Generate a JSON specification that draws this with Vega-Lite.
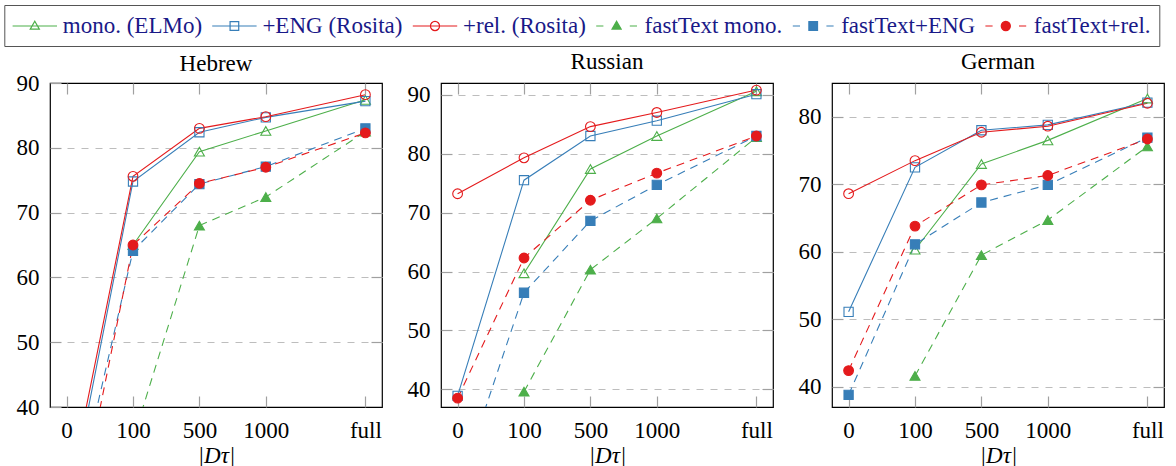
{
  "$schema": "https://vega.github.io/schema/vega-lite/v6.json",
  "padding": {"left": 3, "top": 4, "right": 3, "bottom": 3},
  "spacing": 22,
  "background": "white",
  "datasets": {
    "d": [
      {"lang": "Hebrew", "s": "mono. (ELMo)", "x": 1, "v": 65.0},
      {"lang": "Hebrew", "s": "mono. (ELMo)", "x": 2, "v": 79.4},
      {"lang": "Hebrew", "s": "mono. (ELMo)", "x": 3, "v": 82.6},
      {"lang": "Hebrew", "s": "mono. (ELMo)", "x": 4.5, "v": 87.4},
      {"lang": "Hebrew", "s": "+ENG (Rosita)", "x": 0, "v": 22.8},
      {"lang": "Hebrew", "s": "+ENG (Rosita)", "x": 1, "v": 74.8},
      {"lang": "Hebrew", "s": "+ENG (Rosita)", "x": 2, "v": 82.4},
      {"lang": "Hebrew", "s": "+ENG (Rosita)", "x": 3, "v": 84.7},
      {"lang": "Hebrew", "s": "+ENG (Rosita)", "x": 4.5, "v": 87.2},
      {"lang": "Hebrew", "s": "+rel. (Rosita)", "x": 0, "v": 25.0},
      {"lang": "Hebrew", "s": "+rel. (Rosita)", "x": 1, "v": 75.6},
      {"lang": "Hebrew", "s": "+rel. (Rosita)", "x": 2, "v": 83.0},
      {"lang": "Hebrew", "s": "+rel. (Rosita)", "x": 3, "v": 84.8},
      {"lang": "Hebrew", "s": "+rel. (Rosita)", "x": 4.5, "v": 88.2},
      {"lang": "Hebrew", "s": "fastText mono.", "x": 1, "v": 35.0},
      {"lang": "Hebrew", "s": "fastText mono.", "x": 2, "v": 68.0},
      {"lang": "Hebrew", "s": "fastText mono.", "x": 3, "v": 72.4},
      {"lang": "Hebrew", "s": "fastText mono.", "x": 4.5, "v": 82.5},
      {"lang": "Hebrew", "s": "fastText+ENG", "x": 0, "v": 19.6},
      {"lang": "Hebrew", "s": "fastText+ENG", "x": 1, "v": 64.1},
      {"lang": "Hebrew", "s": "fastText+ENG", "x": 2, "v": 74.4},
      {"lang": "Hebrew", "s": "fastText+ENG", "x": 3, "v": 77.1},
      {"lang": "Hebrew", "s": "fastText+ENG", "x": 4.5, "v": 83.0},
      {"lang": "Hebrew", "s": "fastText+rel.", "x": 0, "v": 14.3},
      {"lang": "Hebrew", "s": "fastText+rel.", "x": 1, "v": 65.0},
      {"lang": "Hebrew", "s": "fastText+rel.", "x": 2, "v": 74.5},
      {"lang": "Hebrew", "s": "fastText+rel.", "x": 3, "v": 77.0},
      {"lang": "Hebrew", "s": "fastText+rel.", "x": 4.5, "v": 82.3},
      {"lang": "Russian", "s": "mono. (ELMo)", "x": 1, "v": 59.7},
      {"lang": "Russian", "s": "mono. (ELMo)", "x": 2, "v": 77.4},
      {"lang": "Russian", "s": "mono. (ELMo)", "x": 3, "v": 83.0},
      {"lang": "Russian", "s": "mono. (ELMo)", "x": 4.5, "v": 90.6},
      {"lang": "Russian", "s": "+ENG (Rosita)", "x": 0, "v": 38.9},
      {"lang": "Russian", "s": "+ENG (Rosita)", "x": 1, "v": 75.5},
      {"lang": "Russian", "s": "+ENG (Rosita)", "x": 2, "v": 83.0},
      {"lang": "Russian", "s": "+ENG (Rosita)", "x": 3, "v": 85.6},
      {"lang": "Russian", "s": "+ENG (Rosita)", "x": 4.5, "v": 90.1},
      {"lang": "Russian", "s": "+rel. (Rosita)", "x": 0, "v": 73.2},
      {"lang": "Russian", "s": "+rel. (Rosita)", "x": 1, "v": 79.3},
      {"lang": "Russian", "s": "+rel. (Rosita)", "x": 2, "v": 84.6},
      {"lang": "Russian", "s": "+rel. (Rosita)", "x": 3, "v": 87.0},
      {"lang": "Russian", "s": "+rel. (Rosita)", "x": 4.5, "v": 90.8},
      {"lang": "Russian", "s": "fastText mono.", "x": 1, "v": 39.6},
      {"lang": "Russian", "s": "fastText mono.", "x": 2, "v": 60.3},
      {"lang": "Russian", "s": "fastText mono.", "x": 3, "v": 69.0},
      {"lang": "Russian", "s": "fastText mono.", "x": 4.5, "v": 82.8},
      {"lang": "Russian", "s": "fastText+ENG", "x": 0, "v": 22.7},
      {"lang": "Russian", "s": "fastText+ENG", "x": 1, "v": 56.4},
      {"lang": "Russian", "s": "fastText+ENG", "x": 2, "v": 68.6},
      {"lang": "Russian", "s": "fastText+ENG", "x": 3, "v": 74.7},
      {"lang": "Russian", "s": "fastText+ENG", "x": 4.5, "v": 83.0},
      {"lang": "Russian", "s": "fastText+rel.", "x": 0, "v": 38.5},
      {"lang": "Russian", "s": "fastText+rel.", "x": 1, "v": 62.3},
      {"lang": "Russian", "s": "fastText+rel.", "x": 2, "v": 72.1},
      {"lang": "Russian", "s": "fastText+rel.", "x": 3, "v": 76.7},
      {"lang": "Russian", "s": "fastText+rel.", "x": 4.5, "v": 83.0},
      {"lang": "German", "s": "mono. (ELMo)", "x": 1, "v": 60.3},
      {"lang": "German", "s": "mono. (ELMo)", "x": 2, "v": 73.0},
      {"lang": "German", "s": "mono. (ELMo)", "x": 3, "v": 76.5},
      {"lang": "German", "s": "mono. (ELMo)", "x": 4.5, "v": 82.7},
      {"lang": "German", "s": "+ENG (Rosita)", "x": 0, "v": 51.1},
      {"lang": "German", "s": "+ENG (Rosita)", "x": 1, "v": 72.5},
      {"lang": "German", "s": "+ENG (Rosita)", "x": 2, "v": 78.0},
      {"lang": "German", "s": "+ENG (Rosita)", "x": 3, "v": 78.8},
      {"lang": "German", "s": "+ENG (Rosita)", "x": 4.5, "v": 82.1},
      {"lang": "German", "s": "+rel. (Rosita)", "x": 0, "v": 68.6},
      {"lang": "German", "s": "+rel. (Rosita)", "x": 1, "v": 73.5},
      {"lang": "German", "s": "+rel. (Rosita)", "x": 2, "v": 77.7},
      {"lang": "German", "s": "+rel. (Rosita)", "x": 3, "v": 78.6},
      {"lang": "German", "s": "+rel. (Rosita)", "x": 4.5, "v": 82.0},
      {"lang": "German", "s": "fastText mono.", "x": 1, "v": 41.6},
      {"lang": "German", "s": "fastText mono.", "x": 2, "v": 59.5},
      {"lang": "German", "s": "fastText mono.", "x": 3, "v": 64.7},
      {"lang": "German", "s": "fastText mono.", "x": 4.5, "v": 75.6},
      {"lang": "German", "s": "fastText+ENG", "x": 0, "v": 38.8},
      {"lang": "German", "s": "fastText+ENG", "x": 1, "v": 61.1},
      {"lang": "German", "s": "fastText+ENG", "x": 2, "v": 67.3},
      {"lang": "German", "s": "fastText+ENG", "x": 3, "v": 69.9},
      {"lang": "German", "s": "fastText+ENG", "x": 4.5, "v": 76.9},
      {"lang": "German", "s": "fastText+rel.", "x": 0, "v": 42.4},
      {"lang": "German", "s": "fastText+rel.", "x": 1, "v": 63.8},
      {"lang": "German", "s": "fastText+rel.", "x": 2, "v": 69.9},
      {"lang": "German", "s": "fastText+rel.", "x": 3, "v": 71.3},
      {"lang": "German", "s": "fastText+rel.", "x": 4.5, "v": 76.7}
    ]
  },
  "hconcat": [
    {
      "title": {"text": "Hebrew", "offset": -4},
      "width": 332, "height": 324,
      "data": {"name": "d"},
      "transform": [{"filter": "datum.lang === 'Hebrew'"}],
      "resolve": {"axis": {"x": "independent", "y": "independent"}},
      "layer": [
        {
          "transform": [{"filter": "indexof(['mono. (ELMo)', '+ENG (Rosita)', '+rel. (Rosita)'], datum.s) >= 0"}],
          "mark": {"type": "line", "clip": true, "strokeWidth": 1.1},
          "encoding": {
            "x": {"field": "x", "type": "quantitative", "scale": {"domain": [-0.25, 4.75], "nice": false, "zero": false},
              "axis": {"values": [0, 1, 2, 3, 4.5], "labelExpr": "datum.value == 0 ? '0' : datum.value == 1 ? '100' : datum.value == 2 ? '500' : datum.value == 3 ? '1000' : 'full'", "title": "|Dτ|", "grid": false, "domain": false, "tickSize": -11, "labelPadding": 23}},
            "y": {"field": "v", "type": "quantitative", "scale": {"domain": [40, 90], "nice": false, "zero": false},
              "axis": {"values": [40, 50, 60, 70, 80, 90], "title": null, "grid": false, "domain": false, "tickSize": -11, "labelPadding": 22}},
            "stroke": {"field": "s", "type": "nominal", "title": null,
              "scale": {"domain": ["mono. (ELMo)", "+ENG (Rosita)", "+rel. (Rosita)", "fastText mono.", "fastText+ENG", "fastText+rel."], "range": ["#4daf4a", "#377eb8", "#e41a1c", "#4daf4a", "#377eb8", "#e41a1c"]}}
          }
        },
        {
          "transform": [{"filter": "indexof(['fastText mono.', 'fastText+ENG', 'fastText+rel.'], datum.s) >= 0"}],
          "mark": {"type": "line", "clip": true, "strokeWidth": 1.1, "strokeDash": [8, 6]},
          "encoding": {
            "x": {"field": "x", "type": "quantitative", "axis": null},
            "y": {"field": "v", "type": "quantitative", "axis": null},
            "stroke": {"field": "s", "type": "nominal", "title": null}
          }
        },
        {
          "transform": [{"filter": "indexof(['mono. (ELMo)', 'fastText mono.'], datum.s) >= 0"}],
          "mark": {"type": "point", "clip": true, "filled": true, "opacity": 1, "size": 100, "strokeWidth": 1.1, "shape": "triangle-up"},
          "encoding": {
            "x": {"field": "x", "type": "quantitative", "axis": {"orient": "top", "values": [0, 1, 2, 3, 4.5], "labels": false, "title": null, "grid": false, "domain": false, "tickSize": -11}},
            "y": {"field": "v", "type": "quantitative", "axis": {"orient": "right", "values": [50, 60, 70, 80], "labels": false, "title": null, "grid": true, "domain": false, "tickSize": -11}},
            "stroke": {"field": "s", "type": "nominal", "title": null},
            "fill": {"field": "s", "type": "nominal", "title": null, "scale": {"domain": ["mono. (ELMo)", "+ENG (Rosita)", "+rel. (Rosita)", "fastText mono.", "fastText+ENG", "fastText+rel."], "range": ["transparent", "transparent", "transparent", "#4daf4a", "#377eb8", "#e41a1c"]}}
          }
        },
        {
          "transform": [{"filter": "indexof(['+ENG (Rosita)', 'fastText+ENG'], datum.s) >= 0"}],
          "mark": {"type": "point", "clip": true, "filled": true, "opacity": 1, "size": 85, "strokeWidth": 1.1, "shape": "square"},
          "encoding": {
            "x": {"field": "x", "type": "quantitative", "axis": null},
            "y": {"field": "v", "type": "quantitative", "axis": null},
            "stroke": {"field": "s", "type": "nominal", "title": null},
            "fill": {"field": "s", "type": "nominal", "title": null}
          }
        },
        {
          "transform": [{"filter": "indexof(['+rel. (Rosita)', 'fastText+rel.'], datum.s) >= 0"}],
          "mark": {"type": "point", "clip": true, "filled": true, "opacity": 1, "size": 95, "strokeWidth": 1.1, "shape": "circle"},
          "encoding": {
            "x": {"field": "x", "type": "quantitative", "axis": null},
            "y": {"field": "v", "type": "quantitative", "axis": null},
            "stroke": {"field": "s", "type": "nominal", "title": null},
            "fill": {"field": "s", "type": "nominal", "title": null}
          }
        },
        {
          "transform": [{"filter": "datum.lang === 'none'"}],
          "mark": {"type": "point", "filled": true, "opacity": 1},
          "encoding": {
            "shape": {"field": "s", "type": "nominal", "title": null,
              "scale": {"domain": ["mono. (ELMo)", "+ENG (Rosita)", "+rel. (Rosita)", "fastText mono.", "fastText+ENG", "fastText+rel."],
                "range": [
                  "M-1.85,0H1.85M0,-0.4L0.38,0.26H-0.38Z",
                  "M-1.85,0H1.85M-0.36,-0.36H0.36V0.36H-0.36Z",
                  "M-1.85,0H1.85M0.38,0A0.38,0.38,0,1,1,-0.38,0A0.38,0.38,0,1,1,0.38,0Z",
                  "M-1.7,0H-1.1M1.1,0H1.7M0,-0.4L0.38,0.26H-0.38Z",
                  "M-1.7,0H-1.1M1.1,0H1.7M-0.36,-0.36H0.36V0.36H-0.36Z",
                  "M-1.7,0H-1.1M1.1,0H1.7M0.38,0A0.38,0.38,0,1,1,-0.38,0A0.38,0.38,0,1,1,0.38,0Z"
                ]},
              "legend": {"title": null, "orient": "none", "direction": "horizontal", "columns": 6, "legendX": -45.7, "legendY": -78, "labelFont": "Liberation Serif", "labelFontSize": 23}}
          }
        }
      ]
    },
    {
      "title": "Russian",
      "width": 332, "height": 324,
      "data": {"name": "d"},
      "transform": [{"filter": "datum.lang === 'Russian'"}],
      "resolve": {"axis": {"x": "independent", "y": "independent"}},
      "layer": [
        {
          "transform": [{"filter": "indexof(['mono. (ELMo)', '+ENG (Rosita)', '+rel. (Rosita)'], datum.s) >= 0"}],
          "mark": {"type": "line", "clip": true, "strokeWidth": 1.1},
          "encoding": {
            "x": {"field": "x", "type": "quantitative", "scale": {"domain": [-0.25, 4.75], "nice": false, "zero": false},
              "axis": {"values": [0, 1, 2, 3, 4.5], "labelExpr": "datum.value == 0 ? '0' : datum.value == 1 ? '100' : datum.value == 2 ? '500' : datum.value == 3 ? '1000' : 'full'", "title": "|Dτ|", "grid": false, "domain": false, "tickSize": -11, "labelPadding": 23}},
            "y": {"field": "v", "type": "quantitative", "scale": {"domain": [37, 92], "nice": false, "zero": false},
              "axis": {"values": [40, 50, 60, 70, 80, 90], "title": null, "grid": false, "domain": false, "tickSize": -11, "labelPadding": 22}},
            "stroke": {"field": "s", "type": "nominal", "title": null}
          }
        },
        {
          "transform": [{"filter": "indexof(['fastText mono.', 'fastText+ENG', 'fastText+rel.'], datum.s) >= 0"}],
          "mark": {"type": "line", "clip": true, "strokeWidth": 1.1, "strokeDash": [8, 6]},
          "encoding": {
            "x": {"field": "x", "type": "quantitative", "axis": null},
            "y": {"field": "v", "type": "quantitative", "axis": null},
            "stroke": {"field": "s", "type": "nominal", "title": null}
          }
        },
        {
          "transform": [{"filter": "indexof(['mono. (ELMo)', 'fastText mono.'], datum.s) >= 0"}],
          "mark": {"type": "point", "clip": true, "filled": true, "opacity": 1, "size": 100, "strokeWidth": 1.1, "shape": "triangle-up"},
          "encoding": {
            "x": {"field": "x", "type": "quantitative", "axis": {"orient": "top", "values": [0, 1, 2, 3, 4.5], "labels": false, "title": null, "grid": false, "domain": false, "tickSize": -11}},
            "y": {"field": "v", "type": "quantitative", "axis": {"orient": "right", "values": [40, 50, 60, 70, 80, 90], "labels": false, "title": null, "grid": true, "domain": false, "tickSize": -11}},
            "stroke": {"field": "s", "type": "nominal", "title": null},
            "fill": {"field": "s", "type": "nominal", "title": null}
          }
        },
        {
          "transform": [{"filter": "indexof(['+ENG (Rosita)', 'fastText+ENG'], datum.s) >= 0"}],
          "mark": {"type": "point", "clip": true, "filled": true, "opacity": 1, "size": 85, "strokeWidth": 1.1, "shape": "square"},
          "encoding": {
            "x": {"field": "x", "type": "quantitative", "axis": null},
            "y": {"field": "v", "type": "quantitative", "axis": null},
            "stroke": {"field": "s", "type": "nominal", "title": null},
            "fill": {"field": "s", "type": "nominal", "title": null}
          }
        },
        {
          "transform": [{"filter": "indexof(['+rel. (Rosita)', 'fastText+rel.'], datum.s) >= 0"}],
          "mark": {"type": "point", "clip": true, "filled": true, "opacity": 1, "size": 95, "strokeWidth": 1.1, "shape": "circle"},
          "encoding": {
            "x": {"field": "x", "type": "quantitative", "axis": null},
            "y": {"field": "v", "type": "quantitative", "axis": null},
            "stroke": {"field": "s", "type": "nominal", "title": null},
            "fill": {"field": "s", "type": "nominal", "title": null}
          }
        }
      ]
    },
    {
      "title": "German",
      "width": 332, "height": 324,
      "data": {"name": "d"},
      "transform": [{"filter": "datum.lang === 'German'"}],
      "resolve": {"axis": {"x": "independent", "y": "independent"}},
      "layer": [
        {
          "transform": [{"filter": "indexof(['mono. (ELMo)', '+ENG (Rosita)', '+rel. (Rosita)'], datum.s) >= 0"}],
          "mark": {"type": "line", "clip": true, "strokeWidth": 1.1},
          "encoding": {
            "x": {"field": "x", "type": "quantitative", "scale": {"domain": [-0.25, 4.75], "nice": false, "zero": false},
              "axis": {"values": [0, 1, 2, 3, 4.5], "labelExpr": "datum.value == 0 ? '0' : datum.value == 1 ? '100' : datum.value == 2 ? '500' : datum.value == 3 ? '1000' : 'full'", "title": "|Dτ|", "grid": false, "domain": false, "tickSize": -11, "labelPadding": 23}},
            "y": {"field": "v", "type": "quantitative", "scale": {"domain": [37, 85], "nice": false, "zero": false},
              "axis": {"values": [40, 50, 60, 70, 80], "title": null, "grid": false, "domain": false, "tickSize": -11, "labelPadding": 22}},
            "stroke": {"field": "s", "type": "nominal", "title": null}
          }
        },
        {
          "transform": [{"filter": "indexof(['fastText mono.', 'fastText+ENG', 'fastText+rel.'], datum.s) >= 0"}],
          "mark": {"type": "line", "clip": true, "strokeWidth": 1.1, "strokeDash": [8, 6]},
          "encoding": {
            "x": {"field": "x", "type": "quantitative", "axis": null},
            "y": {"field": "v", "type": "quantitative", "axis": null},
            "stroke": {"field": "s", "type": "nominal", "title": null}
          }
        },
        {
          "transform": [{"filter": "indexof(['mono. (ELMo)', 'fastText mono.'], datum.s) >= 0"}],
          "mark": {"type": "point", "clip": true, "filled": true, "opacity": 1, "size": 100, "strokeWidth": 1.1, "shape": "triangle-up"},
          "encoding": {
            "x": {"field": "x", "type": "quantitative", "axis": {"orient": "top", "values": [0, 1, 2, 3, 4.5], "labels": false, "title": null, "grid": false, "domain": false, "tickSize": -11}},
            "y": {"field": "v", "type": "quantitative", "axis": {"orient": "right", "values": [40, 50, 60, 70, 80], "labels": false, "title": null, "grid": true, "domain": false, "tickSize": -11}},
            "stroke": {"field": "s", "type": "nominal", "title": null},
            "fill": {"field": "s", "type": "nominal", "title": null}
          }
        },
        {
          "transform": [{"filter": "indexof(['+ENG (Rosita)', 'fastText+ENG'], datum.s) >= 0"}],
          "mark": {"type": "point", "clip": true, "filled": true, "opacity": 1, "size": 85, "strokeWidth": 1.1, "shape": "square"},
          "encoding": {
            "x": {"field": "x", "type": "quantitative", "axis": null},
            "y": {"field": "v", "type": "quantitative", "axis": null},
            "stroke": {"field": "s", "type": "nominal", "title": null},
            "fill": {"field": "s", "type": "nominal", "title": null}
          }
        },
        {
          "transform": [{"filter": "indexof(['+rel. (Rosita)', 'fastText+rel.'], datum.s) >= 0"}],
          "mark": {"type": "point", "clip": true, "filled": true, "opacity": 1, "size": 95, "strokeWidth": 1.1, "shape": "circle"},
          "encoding": {
            "x": {"field": "x", "type": "quantitative", "axis": null},
            "y": {"field": "v", "type": "quantitative", "axis": null},
            "stroke": {"field": "s", "type": "nominal", "title": null},
            "fill": {"field": "s", "type": "nominal", "title": null}
          }
        }
      ]
    }
  ],
  "config": {
    "font": "Liberation Serif",
    "view": {"stroke": "black", "strokeWidth": 1.2},
    "title": {"font": "Liberation Serif", "fontSize": 23, "fontWeight": "normal", "color": "black", "offset": 8, "frame": "group"},
    "axis": {
      "labelFont": "Liberation Serif", "labelFontSize": 23, "labelColor": "black",
      "titleFont": "Liberation Serif", "titleFontSize": 23, "titleFontWeight": "normal", "titleFontStyle": "italic", "titleColor": "black", "titlePadding": 2,
      "tickColor": "#a0a0a0", "tickWidth": 1.2,
      "gridColor": "#bdbdbd", "gridDash": [7, 7], "gridWidth": 1.1
    },
    "legend": {
      "labelFont": "Liberation Serif", "labelFontSize": 23, "labelColor": "#191988", "labelLimit": 400,
      "symbolSize": 576, "symbolStrokeWidth": 1.2,
      "padding": 8, "strokeColor": "#555555", "fillColor": "white",
      "columnPadding": 6.6, "labelOffset": 15, "symbolOffset": 9.5
    }
  }
}
